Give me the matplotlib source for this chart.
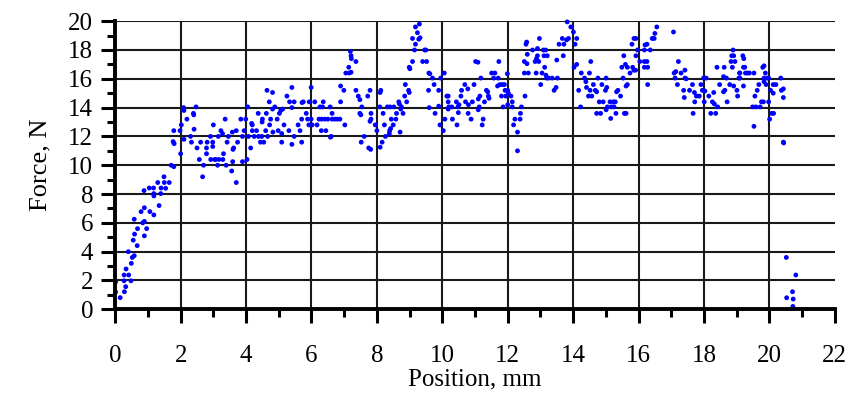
import numpy as np
import matplotlib.pyplot as plt

# Force vs position readings, grouped by stretch of travel (mm, N)
pos_a = [0.01, 0.01, 0.15, 0.28, 0.32, 0.27, 0.27, 0.33, 0.41, 0.48, 0.49, 0.52, 0.58, 0.40,
         0.67, 0.55, 0.59, 0.68, 0.58, 0.84, 0.89, 0.79, 0.89, 0.96, 0.89, 1.06, 1.18, 1.34,
         0.88, 1.04, 1.17, 1.18, 1.18, 1.30, 1.39, 1.40, 1.49, 1.50, 1.54, 1.65, 1.71, 1.79,
         1.77, 1.80, 1.79, 1.98, 2.00, 2.02, 2.09, 2.10, 2.10, 2.19, 2.30, 2.33, 2.39, 2.40,
         2.41, 2.47, 2.50, 2.57, 2.61, 2.67, 2.70, 2.79, 2.79, 2.81, 2.92, 2.91, 3.00, 2.98,
         2.98, 3.04]
force_a = [1.9, 1.2, 0.81, 1.22, 1.57, 1.98, 2.38, 2.8, 2.38, 1.98, 3.19, 3.6, 3.72, 4.0,
           4.42, 4.8, 5.22, 5.6, 6.25, 6.0, 6.1, 6.78, 7.05, 5.6, 5.1, 6.78, 6.55, 7.2,
           8.24, 8.42, 8.42, 8.03, 7.87, 8.8, 8.03, 8.42, 9.2, 8.8, 8.4, 8.8, 10.0, 9.9,
           11.64, 11.5, 12.4, 12.4, 10.8, 12.8, 14.0, 13.8, 11.8, 13.2, 12.0, 11.6, 13.6, 13.5,
           12.5, 14.05, 11.2, 10.4, 11.6, 9.2, 10.0, 10.8, 11.2, 11.6, 10.4, 12.0, 12.8, 11.6,
           11.3, 10.4]

pos_b = [3.15, 3.23, 3.28, 3.36, 3.46, 3.42, 3.07, 3.17, 3.29, 3.31, 3.13, 3.39, 3.56, 3.59,
         3.62, 3.60, 3.58, 3.70, 3.70, 3.74, 3.84, 3.89, 3.89, 3.94, 3.99, 4.03, 4.05, 4.07,
         4.14, 4.17, 4.19, 4.19, 4.25, 4.32, 4.37, 4.38, 4.44, 4.48, 4.49, 4.50, 4.54, 4.60,
         4.62, 4.64, 4.66, 4.71, 4.72, 4.75, 4.81, 4.81, 4.82, 4.88, 4.95, 4.98, 5.02, 5.06,
         5.09, 5.09, 5.12, 5.16, 5.25, 5.31, 5.33, 5.40, 5.40, 5.40, 5.47, 5.47, 5.59, 5.65,
         5.70, 5.70, 5.71, 5.75, 5.84, 5.88, 5.92, 5.93, 5.99, 5.99, 6.02, 6.10, 6.17, 6.23]
force_b = [12.0, 12.4, 12.2, 13.2, 12.0, 11.6, 10.4, 10.4, 10.4, 10.8, 10.0, 10.0, 9.6, 10.25,
           11.2, 11.1, 12.3, 12.4, 8.8, 11.6, 13.2, 12.0, 10.25, 12.4, 13.2, 10.4, 14.05, 12.0,
           11.2, 12.9, 12.4, 12.8, 12.0, 12.4, 13.6, 12.0, 11.6, 12.0, 13.0, 13.2, 11.6, 12.4,
           13.6, 15.2, 12.0, 14.4, 12.8, 13.2, 15.05, 13.9, 12.3, 14.05, 13.2, 12.4, 13.6, 13.8,
           12.2, 11.6, 13.9, 12.8, 14.8, 12.4, 14.4, 15.4, 14.0, 11.45, 14.4, 12.0, 12.8, 12.4,
           13.2, 11.6, 14.35, 14.4, 13.6, 13.2, 12.8, 14.4, 15.4, 13.2, 12.8, 14.4, 12.8, 13.2]

pos_c = [6.26, 6.31, 6.30, 6.36, 6.34, 6.41, 6.44, 6.50, 6.57, 6.60, 6.63, 6.63, 6.58, 6.71,
         6.79, 6.87, 6.89, 6.89, 6.99, 7.02, 7.05, 7.14, 7.15, 7.21, 7.19, 7.21, 7.22, 7.36,
         7.36, 7.43, 7.48, 7.54, 7.48, 7.51, 7.61, 7.52, 7.72, 7.79, 7.82, 7.82, 7.79, 7.75,
         7.81, 7.95, 8.00, 8.09, 8.10, 8.12, 8.10, 8.16, 8.19, 8.23, 8.26, 8.32, 8.38, 8.39,
         8.40, 8.42, 8.44, 8.50, 8.52, 8.58, 8.60, 8.67, 8.69, 8.71, 8.73, 8.75, 8.80, 8.85,
         8.87, 8.91, 8.97, 8.99, 8.99, 9.01, 9.09, 9.09, 9.15, 9.18, 9.18, 9.24, 9.30, 9.28,
         9.32, 9.40, 9.46]
force_c = [14.05, 13.2, 12.4, 14.4, 14.05, 13.2, 12.4, 13.2, 14.05, 12.0, 13.6, 13.2, 11.95, 13.2,
           13.2, 13.2, 14.4, 15.5, 15.2, 12.8, 16.4, 16.8, 16.4, 16.45, 17.9, 17.6, 17.4, 17.2,
           15.2, 14.8, 14.55, 14.05, 13.6, 13.5, 12.0, 11.6, 14.8, 15.2, 13.6, 13.2, 13.05, 11.2,
           11.1, 12.8, 12.4, 14.05, 15.05, 15.2, 11.25, 11.6, 13.6, 12.8, 12.0, 14.05, 12.2, 12.4,
           14.05, 12.55, 13.2, 12.8, 14.05, 13.2, 13.6, 14.4, 14.25, 12.3, 13.9, 14.05, 13.6, 14.8,
           15.6, 14.4, 15.2, 15.05, 16.8, 16.7, 17.2, 18.8, 18.0, 18.4, 19.6, 19.2, 19.8, 18.75,
           18.85, 17.2, 18.0]

pos_d = [9.50, 9.52, 9.59, 9.62, 9.70, 9.58, 9.60, 9.75, 9.78, 9.89, 9.89, 9.93, 9.95, 10.03,
         10.06, 10.08, 10.14, 10.18, 10.18, 10.20, 10.18, 10.29, 10.31, 10.43, 10.45, 10.48, 10.49,
         10.51, 10.57, 10.59, 10.69, 10.71, 10.78, 10.79, 10.80, 10.88, 10.92, 10.97, 11.02, 11.09,
         11.10, 11.10, 11.13, 11.15, 11.18, 11.22, 11.25, 11.29, 11.35, 11.39, 11.41, 11.43, 11.51,
         11.57, 11.61, 11.69, 11.71, 11.73, 11.76, 11.83, 11.81, 11.86, 11.90, 11.92, 11.94, 11.99,
         12.00, 12.00, 12.02, 12.10, 12.14, 12.14, 12.18, 12.22, 12.30, 12.30, 12.38, 12.39, 12.42,
         12.53, 12.51, 12.51, 12.56, 12.58, 12.60, 12.59, 12.63]
force_d = [18.0, 17.2, 16.4, 16.35, 16.05, 15.2, 14.0, 15.6, 13.6, 15.2, 14.1, 12.8, 16.05, 12.4,
           16.4, 13.2, 14.8, 14.8, 14.4, 14.05, 13.9, 14.05, 13.2, 14.4, 12.8, 14.05, 13.65,
           14.2, 14.8, 15.2, 15.6, 14.4, 15.3, 13.6, 14.2, 13.2, 14.4, 15.6, 17.2, 17.15,
           14.6, 13.85, 14.05, 14.8, 16.05, 12.8, 13.2, 14.4, 15.2, 15.1, 14.8, 14.65, 16.4,
           16.05, 16.4, 15.5, 16.05, 17.2, 15.6, 15.6, 14.8, 14.05, 15.6, 15.2, 14.8, 16.35,
           15.2, 14.2, 15.0, 14.8, 14.4, 14.05, 12.8, 13.2, 12.3, 11.0, 13.2, 13.6, 14.05,
           14.8, 16.4, 17.2, 18.4, 18.55, 17.7, 17.05, 16.4]

pos_e = [12.76, 12.84, 12.88, 12.87, 12.91, 12.91, 12.95, 12.97, 13.01, 13.05, 13.09, 13.11,
         13.13, 13.16, 13.17, 13.19, 13.21, 13.25, 13.36, 13.42, 13.48, 13.50, 13.52, 13.57,
         13.67, 13.70, 13.72, 13.80, 13.86, 13.93, 13.82, 14.01, 14.06, 14.11, 14.03, 14.11,
         14.17, 14.23, 14.25, 14.35, 14.39, 14.41, 14.47, 14.52, 14.50, 14.54, 14.57, 14.62,
         14.68, 14.72, 14.72, 14.76, 14.80, 14.84, 14.88, 14.92, 14.99, 15.01, 15.03, 15.01,
         15.05, 15.13, 15.15, 15.17, 15.23, 15.25, 15.29, 15.31, 15.33, 15.37, 15.45, 15.49,
         15.55, 15.53, 15.57, 15.62, 15.60, 15.62, 15.66, 15.66, 15.74, 15.80, 15.82, 15.86, 15.86]
force_e = [18.0, 17.2, 17.4, 16.4, 18.1, 17.6, 17.2, 18.8, 15.6, 16.4, 18.0, 17.6,
           16.8, 18.0, 16.25, 16.05, 17.6, 16.05, 16.05, 15.2, 15.4, 17.3, 16.05, 18.4,
           18.8, 17.6, 18.4, 18.7, 18.8, 19.6, 19.95, 19.25, 18.4, 18.8, 16.8, 17.0,
           15.2, 14.05, 16.4, 16.05, 15.8, 15.4, 14.8, 15.2, 16.4, 17.2, 14.8, 15.6,
           15.2, 15.1, 13.6, 16.05, 14.4, 13.6, 15.6, 14.4, 15.2, 16.05, 15.4, 13.85,
           14.05, 14.4, 13.25, 14.05, 14.4, 14.05, 14.4, 13.6, 15.1, 15.2, 14.8, 16.8,
           17.6, 16.05, 13.6, 13.6, 17.0, 15.5, 15.6, 16.8, 16.4, 18.4, 16.8, 18.8, 16.6]

pos_f = [15.92, 15.92, 15.97, 15.91, 16.04, 16.18, 16.20, 16.26, 16.18, 16.18, 16.26, 16.28,
         16.28, 16.36, 16.42, 16.48, 16.50, 16.56, 17.07, 17.09, 17.14, 17.12, 17.19, 17.22,
         17.30, 17.38, 17.40, 17.42, 17.42, 17.46, 17.56, 17.65, 17.67, 17.71, 17.72, 17.77,
         17.86, 17.91, 17.95, 17.99, 18.01, 18.03, 18.07, 18.15, 18.21, 18.26, 18.30, 18.32,
         18.36, 18.42, 18.40, 18.48, 18.60, 18.62, 18.60, 18.64, 18.69, 18.71, 18.79, 18.83,
         18.85, 18.89, 18.91, 18.87, 18.91, 18.95, 19.01, 19.03, 19.07, 19.09]
force_f = [18.8, 17.6, 18.0, 16.6, 17.2, 18.0, 18.35, 18.4, 17.2, 16.8, 17.2, 16.8,
           15.6, 18.0, 18.8, 18.8, 19.15, 19.6, 19.25, 16.4, 16.5, 16.05, 15.6, 17.2,
           16.4, 15.2, 14.7, 16.6, 16.05, 16.0, 15.2, 15.6, 13.6, 15.05, 14.4, 14.8,
           14.8, 15.6, 15.2, 16.05, 14.4, 15.15, 16.05, 14.8, 13.6, 14.4, 15.05, 14.25,
           13.6, 14.05, 16.8, 15.6, 15.1, 16.8, 16.15, 15.2, 16.05, 14.4, 15.6, 17.2,
           17.6, 18.0, 17.6, 16.8, 15.5, 17.2, 15.2, 14.8, 16.05, 16.4]

pos_g = [19.19, 19.22, 19.21, 19.25, 19.10, 19.27, 19.33, 19.39, 19.53, 19.10, 19.21, 19.56,
         19.63, 19.68, 19.49, 19.59, 19.72, 19.53, 19.76, 19.82, 19.80, 19.84, 19.88, 19.84,
         19.94, 19.84, 19.90, 19.98, 19.98, 20.04, 20.12, 20.12, 20.20, 20.01, 20.07, 20.13,
         20.35, 20.37, 20.43, 20.43, 20.43, 20.44, 20.52, 20.81, 20.71, 20.73, 20.53, 20.72]
force_g = [17.6, 17.4, 16.8, 16.8, 16.4, 16.4, 16.4, 16.4, 16.4, 16.05, 15.5, 14.8,
           15.2, 15.6, 14.05, 14.05, 14.05, 12.7, 14.4, 14.4, 16.8, 16.9, 16.4, 16.05,
           16.05, 15.8, 15.6, 16.05, 14.4, 15.2, 15.6, 15.0, 15.6, 13.2, 13.6, 13.6,
           16.05, 15.2, 15.3, 14.7, 11.6, 11.55, 3.6, 2.38, 1.22, 0.71, 0.8, 0.2]

position = np.array(pos_a + pos_b + pos_c + pos_d + pos_e + pos_f + pos_g)
force = np.array(force_a + force_b + force_c + force_d + force_e + force_f + force_g)

x_major = np.arange(0, 23, 2)
y_major = np.arange(0, 21, 2)

plt.rcParams['font.family'] = ['Liberation Serif', 'DejaVu Serif']

fig = plt.figure(figsize=(8.57, 4.05), dpi=100)
ax = fig.add_axes([0.1345, 0.2363, 0.8395, 0.7114])

# grid drawn by hand so the line at y=20 shows and nothing at x=22
for xv in x_major[1:-1]:
    ax.axvline(xv, color='#1a1a1a', lw=1.5, zorder=1)
for yv in y_major[1:]:
    ax.axhline(yv, color='#1a1a1a', lw=1.5, zorder=1)

ax.scatter(position, force, s=12, color='#0000ff', edgecolors='none', zorder=3, clip_on=False)

ax.set_xlim(0, 22)
ax.set_ylim(0, 20)
ax.set_xticks(x_major)
ax.set_yticks(y_major)
ax.set_xticks(np.arange(1, 22, 2), minor=True)
ax.set_yticks(np.arange(1, 20, 2), minor=True)

for side in ['top', 'right']:
    ax.spines[side].set_visible(False)
for side in ['left', 'bottom']:
    ax.spines[side].set_linewidth(2.8)
    ax.spines[side].set_zorder(4)

ax.tick_params(which='major', direction='out', length=10, width=2.2, labelsize=18, pad=16)
ax.tick_params(which='minor', direction='out', length=6, width=2.2)
ax.tick_params(axis='y', which='major', pad=6)

ax.set_xlabel('Position, mm', fontsize=18, labelpad=1)
ax.set_ylabel('Force, N', fontsize=19, labelpad=12)

fig.savefig('out.png', dpi=100)
